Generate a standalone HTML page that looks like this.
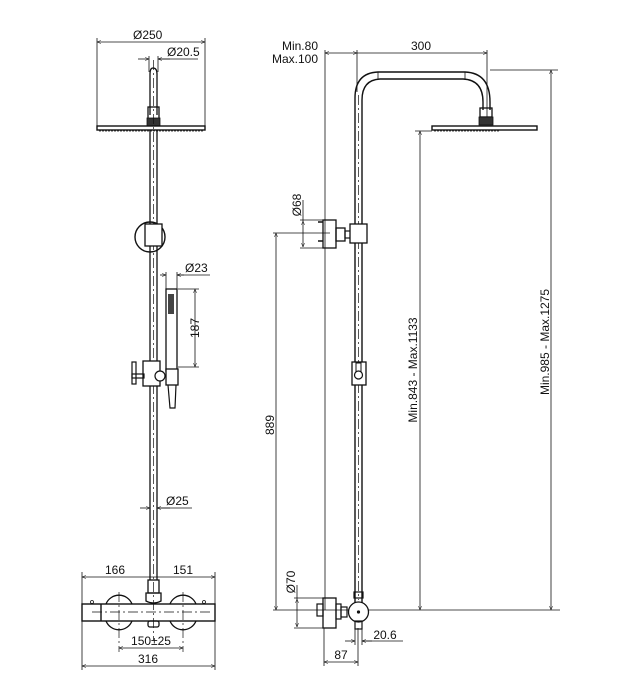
<!DOCTYPE html>
<html><head><style>
html,body{margin:0;padding:0;background:#fff}
svg{display:block}
text{font-family:"Liberation Sans",sans-serif;font-size:12px;fill:#111}
</style></head><body>
<svg width="636" height="700" viewBox="0 0 636 700" xmlns="http://www.w3.org/2000/svg">
<defs>
<marker id="a" viewBox="0 0 10 10" refX="10" refY="5" markerWidth="7" markerHeight="5" orient="auto-start-reverse"><path d="M0,1 L10,5 L0,9" fill="none" stroke="#111" stroke-width="1.2"/></marker>
</defs>
<g stroke="#111" stroke-width="0.8" fill="none">
<!-- LEFT VIEW -->
<line x1="97" y1="42" x2="205" y2="42" marker-start="url(#a)" marker-end="url(#a)"/>
<line x1="97" y1="38" x2="97" y2="128"/><line x1="205" y1="38" x2="205" y2="128"/>
<line x1="138" y1="59" x2="149" y2="59" marker-end="url(#a)"/>
<line x1="170" y1="59" x2="158" y2="59" marker-end="url(#a)"/>
<line x1="158" y1="59" x2="198" y2="59"/>
<line x1="149" y1="56" x2="149" y2="72"/><line x1="158" y1="56" x2="158" y2="72"/>
<path d="M150,115 V74 Q150,68 153,68 Q157,68 157,74 V115" stroke-width="1.3"/>
<rect x="148" y="107" width="11" height="12" stroke-width="1.3"/>
<rect x="147" y="118" width="13" height="8" fill="#333"/>
<rect x="97" y="126" width="108" height="4" stroke-width="1.4"/>
<line x1="99" y1="131" x2="203" y2="131" stroke-dasharray="2,1"/>
<line x1="150" y1="130" x2="150" y2="580" stroke-width="1.3"/>
<line x1="157" y1="130" x2="157" y2="580" stroke-width="1.3"/>
<line x1="153.5" y1="60" x2="153.5" y2="640" stroke-dasharray="10,3,2,3" stroke-width="0.7"/>
<circle cx="150" cy="237" r="15" stroke-width="1.4"/>
<rect x="145" y="224" width="17" height="22" fill="#fff" stroke-width="1.3"/>
<line x1="160" y1="275" x2="166" y2="275" marker-end="url(#a)"/>
<line x1="184" y1="275" x2="177" y2="275" marker-end="url(#a)"/>
<line x1="177" y1="275" x2="210" y2="275"/>
<line x1="166" y1="272" x2="166" y2="290"/><line x1="177" y1="272" x2="177" y2="290"/>
<rect x="166" y="289" width="11" height="82" stroke-width="1.3"/>
<rect x="168" y="294" width="6" height="20" fill="#444" stroke="none"/>
<line x1="195" y1="289" x2="195" y2="367" marker-start="url(#a)" marker-end="url(#a)"/>
<line x1="178" y1="289" x2="199" y2="289"/><line x1="178" y1="367" x2="199" y2="367"/>
<rect x="143" y="361" width="17" height="25" fill="#fff" stroke-width="1.3"/>
<rect x="132" y="362" width="4" height="22" stroke-width="1.2"/>
<rect x="132" y="374" width="12" height="4" stroke-width="1.2"/>
<circle cx="160" cy="376" r="5" fill="#fff" stroke-width="1.2"/>
<rect x="166" y="369" width="12" height="16" fill="#fff" stroke-width="1.3"/>
<path d="M168,385 L170,408 L175,408 L176,385" stroke-width="1.2"/>
<line x1="140" y1="508" x2="150" y2="508" marker-end="url(#a)"/>
<line x1="170" y1="508" x2="157" y2="508" marker-end="url(#a)"/>
<line x1="157" y1="508" x2="192" y2="508"/>
<line x1="82" y1="577" x2="215" y2="577" marker-start="url(#a)" marker-end="url(#a)"/>
<line x1="82" y1="572" x2="82" y2="670"/><line x1="215" y1="572" x2="215" y2="670"/>
<rect x="148" y="580" width="11" height="13" stroke-width="1.3"/>
<path d="M146,593 h15 v8 q-7.5,4 -15,0 z" stroke-width="1.3"/>
<path d="M106,604 A14,14 0 0 1 132,604 M106,621 A14,14 0 0 0 132,621" stroke-width="1.3"/>
<path d="M170,604 A14,14 0 0 1 196,604 M170,621 A14,14 0 0 0 196,621" stroke-width="1.3"/>
<rect x="82" y="604" width="133" height="17" stroke-width="1.4"/>
<line x1="101" y1="604" x2="101" y2="621" stroke-width="1.4"/>
<line x1="92" y1="612" x2="210" y2="612" stroke-dasharray="10,3,2,3" stroke-width="0.7"/>
<line x1="119" y1="592" x2="119" y2="652" stroke-dasharray="10,3,2,3" stroke-width="0.7"/>
<line x1="183" y1="592" x2="183" y2="652" stroke-dasharray="10,3,2,3" stroke-width="0.7"/>
<rect x="148" y="621" width="11" height="6" rx="2" stroke-width="1.3"/>
<circle cx="92" cy="602" r="1.5"/><circle cx="204" cy="602" r="1.5"/>
<line x1="119" y1="648" x2="183" y2="648" marker-start="url(#a)" marker-end="url(#a)"/>
<line x1="82" y1="666" x2="215" y2="666" marker-start="url(#a)" marker-end="url(#a)"/>

<!-- RIGHT VIEW -->
<line x1="325" y1="53" x2="357" y2="53" marker-start="url(#a)" marker-end="url(#a)"/>
<line x1="357" y1="53" x2="487" y2="53" marker-end="url(#a)"/>
<line x1="357" y1="50" x2="357" y2="92"/><line x1="487" y1="50" x2="487" y2="120"/>
<line x1="325" y1="50" x2="325" y2="610"/>
<path d="M355,605 V98 Q355,73 378,72 H465 Q490,73 490,102 V110" stroke-width="1.4"/>
<path d="M362,605 V100 Q362,80 380,79 H463 Q483,80 483,102 V110" stroke-width="1.4"/>
<line x1="378" y1="72" x2="378" y2="79"/><line x1="465" y1="72" x2="465" y2="79"/>
<line x1="358.5" y1="95" x2="358.5" y2="600" stroke-dasharray="10,3,2,3" stroke-width="0.7"/>
<rect x="480" y="108" width="12" height="9" stroke-width="1.3"/>
<rect x="479" y="117" width="14" height="8" fill="#333"/>
<rect x="432" y="126" width="105" height="4" stroke-width="1.4"/>
<line x1="434" y1="131" x2="500" y2="131" stroke-dasharray="2,1"/>
<rect x="323" y="220" width="13" height="28" stroke-width="1.3"/>
<rect x="336" y="228" width="9" height="13" stroke-width="1.3"/>
<rect x="345" y="231" width="6" height="7" stroke-width="1.2"/>
<rect x="350" y="224" width="17" height="19" fill="#fff" stroke-width="1.3"/>
<line x1="318" y1="222" x2="323" y2="222" stroke-width="1.5"/><line x1="318" y1="241" x2="323" y2="241" stroke-width="1.5"/>
<line x1="303" y1="221" x2="303" y2="247" marker-start="url(#a)" marker-end="url(#a)"/>
<line x1="300" y1="220" x2="323" y2="220"/><line x1="300" y1="248" x2="323" y2="248"/>
<line x1="303" y1="221" x2="303" y2="200"/>
<line x1="273" y1="233" x2="330" y2="233"/>
<line x1="276" y1="233" x2="276" y2="610" marker-start="url(#a)" marker-end="url(#a)"/>
<rect x="352" y="362" width="14" height="23" fill="#fff" stroke-width="1.3"/>
<rect x="356" y="363" width="5" height="9" stroke-width="1"/>
<circle cx="358.5" cy="375" r="4" fill="#fff" stroke-width="1.2"/>
<line x1="490" y1="70" x2="558" y2="70"/>
<line x1="551" y1="70" x2="551" y2="610" marker-start="url(#a)" marker-end="url(#a)"/>
<line x1="420" y1="131" x2="420" y2="610" marker-start="url(#a)" marker-end="url(#a)"/>
<line x1="415" y1="131" x2="432" y2="131"/>
<line x1="273" y1="610" x2="560" y2="610"/>
<rect x="323" y="598" width="13" height="30" stroke-width="1.3"/>
<rect x="317" y="604" width="6" height="12" stroke-width="1.2"/>
<rect x="336" y="604" width="5" height="15" stroke-width="1.2"/>
<rect x="341" y="607" width="6" height="10" stroke-width="1.2"/>
<rect x="354" y="592" width="9" height="6" stroke-width="1.2"/>
<circle cx="358.5" cy="612" r="10" fill="#fff" stroke-width="1.3"/>
<circle cx="358.5" cy="612" r="1.2" fill="#111"/>
<rect x="355" y="621" width="7" height="8" stroke-width="1.2"/>
<line x1="297" y1="599" x2="297" y2="627" marker-start="url(#a)" marker-end="url(#a)"/>
<line x1="294" y1="598" x2="323" y2="598"/><line x1="294" y1="628" x2="323" y2="628"/>
<line x1="297" y1="599" x2="297" y2="585"/>
<line x1="345" y1="641" x2="355" y2="641" marker-end="url(#a)"/>
<line x1="372" y1="641" x2="362" y2="641" marker-end="url(#a)"/>
<line x1="362" y1="641" x2="403" y2="641"/>
<line x1="355" y1="628" x2="355" y2="645"/><line x1="362" y1="628" x2="362" y2="645"/>
<line x1="324" y1="662" x2="358" y2="662" marker-start="url(#a)" marker-end="url(#a)"/>
<line x1="324" y1="628" x2="324" y2="666"/><line x1="358" y1="628" x2="358" y2="666"/>
</g>
<text x="133" y="39">Ø250</text>
<text x="167" y="56">Ø20.5</text>
<text x="185" y="272">Ø23</text>
<text transform="translate(199,328) rotate(-90)" text-anchor="middle">187</text>
<text x="166" y="505">Ø25</text>
<text x="115" y="574" text-anchor="middle">166</text>
<text x="183" y="574" text-anchor="middle">151</text>
<text x="151" y="645" text-anchor="middle">150±25</text>
<text x="148" y="663" text-anchor="middle">316</text>
<text x="318" y="50" text-anchor="end">Min.80</text>
<text x="318" y="63" text-anchor="end">Max.100</text>
<text x="421" y="50" text-anchor="middle">300</text>
<text transform="translate(301,205) rotate(-90)" text-anchor="middle">Ø68</text>
<text transform="translate(274,425) rotate(-90)" text-anchor="middle">889</text>
<text transform="translate(417,370) rotate(-90)" text-anchor="middle">Min.843 - Max.1133</text>
<text transform="translate(549,342) rotate(-90)" text-anchor="middle">Min.985 - Max.1275</text>
<text transform="translate(295,582) rotate(-90)" text-anchor="middle">Ø70</text>
<text x="385" y="639" text-anchor="middle">20.6</text>
<text x="341" y="659" text-anchor="middle">87</text>
</svg>
</body></html>
